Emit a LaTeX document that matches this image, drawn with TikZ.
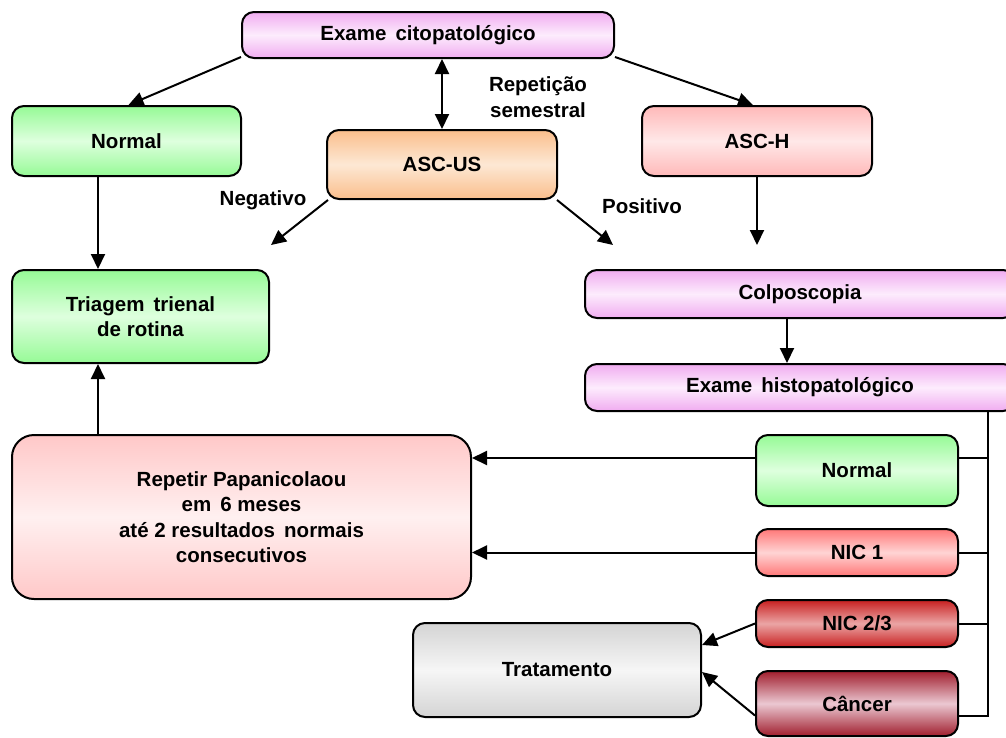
\documentclass[tikz,border=0pt]{standalone}
\usepackage{fontspec}
\setmainfont{Liberation Sans}
\usepackage{xcolor}
\definecolor{violetEdge}{RGB}{240,172,240}
\definecolor{violetMid}{RGB}{253,236,253}
\definecolor{greenEdge}{RGB}{150,250,150}
\definecolor{greenMid}{RGB}{222,255,222}
\definecolor{orangeEdge}{RGB}{250,190,140}
\definecolor{orangeMid}{RGB}{253,232,212}
\definecolor{roseEdge}{RGB}{255,185,185}
\definecolor{roseMid}{RGB}{255,232,232}
\definecolor{paleEdge}{RGB}{255,200,200}
\definecolor{paleMid}{RGB}{255,240,240}
\definecolor{redEdge}{RGB}{255,120,120}
\definecolor{redMid}{RGB}{255,212,212}
\definecolor{darkEdge}{RGB}{200,32,32}
\definecolor{darkMid}{RGB}{235,165,165}
\definecolor{wineEdge}{RGB}{160,30,45}
\definecolor{wineMid}{RGB}{235,200,210}
\definecolor{greyEdge}{RGB}{212,212,212}
\definecolor{greyMid}{RGB}{246,246,246}
\usetikzlibrary{arrows.meta}
\tikzstyle{box} = [draw=black, line width=2pt, rounded corners=12pt, inner sep=0pt,
        align=center, font={\bfseries\fontsize{20.5}{25.5}\selectfont}]
\tikzstyle{violetBox} = [box, top color=violetEdge, bottom color=violetEdge, middle color=violetMid]
\tikzstyle{greenBox} = [box, top color=greenEdge, bottom color=greenEdge, middle color=greenMid]
\tikzstyle{orangeBox} = [box, top color=orangeEdge, bottom color=orangeEdge, middle color=orangeMid]
\tikzstyle{roseBox} = [box, top color=roseEdge, bottom color=roseEdge, middle color=roseMid]
\tikzstyle{paleBox} = [box, top color=paleEdge, bottom color=paleEdge, middle color=paleMid]
\tikzstyle{redBox} = [box, top color=redEdge, bottom color=redEdge, middle color=redMid]
\tikzstyle{darkBox} = [box, top color=darkEdge, bottom color=darkEdge, middle color=darkMid]
\tikzstyle{wineBox} = [box, top color=wineEdge, bottom color=wineEdge, middle color=wineMid]
\tikzstyle{greyBox} = [box, top color=greyEdge, bottom color=greyEdge, middle color=greyMid]
\tikzstyle{lbl} = [align=center, font={\bfseries\fontsize{20.5}{25.5}\selectfont}]
\tikzstyle{link} = [line width=2pt]
\tikzstyle{arr} = [link, -{Triangle[length=15pt,width=14pt]}]
\tikzstyle{arrBoth} = [link, {Triangle[length=15pt,width=14pt]}-{Triangle[length=15pt,width=14pt]}]

\begin{document}
\begin{tikzpicture}[x=1pt, y=-1pt]
            \useasboundingbox (0,0) rectangle (1006,737);
            % boxes
            \node [violetBox, minimum width=372pt, minimum height=46pt] (exCito) at (428,35) {Exame \,citopatológico};
            \node [greenBox, minimum width=229pt, minimum height=70pt] (normL) at (126.5,141) {Normal};
            \node [orangeBox, minimum width=230pt, minimum height=69pt] (ascus) at (442,164.5) {ASC-US};
            \node [roseBox, minimum width=230pt, minimum height=70pt] (asch) at (757,141) {ASC-H};
            \node [greenBox, minimum width=257pt, minimum height=93pt] (triagem) at (140.5,316.5) {Triagem \,trienal\\de rotina};
            \node [violetBox, minimum width=430pt, minimum height=48pt] (colpo) at (800,294) {Colposcopia};
            \node [violetBox, minimum width=430pt, minimum height=47pt] (histo) at (800,387.5) {Exame \,histopatológico};
            \node [paleBox, rounded corners=22pt, minimum width=459pt, minimum height=164pt] (repetir) at (241.5,517)
                {Repetir Papanicolaou\\em \,6 meses\\até 2 resultados \,normais\\consecutivos};
            \node [greenBox, minimum width=202pt, minimum height=71pt] (normR) at (857,470.5) {Normal};
            \node [redBox, minimum width=202pt, minimum height=47pt] (nic1) at (857,552.5) {NIC 1};
            \node [darkBox, minimum width=202pt, minimum height=47pt] (nic23) at (857,623.5) {NIC 2/3};
            \node [wineBox, minimum width=202pt, minimum height=65pt] (cancer) at (857,703.5) {Câncer};
            \node [greyBox, minimum width=288pt, minimum height=94pt] (trat) at (557,670) {Tratamento};
            % labels
            \node [lbl] (repLbl) at (538,97) {Repetição\\semestral};
            \node [lbl] (negLbl) at (263,200) {Negativo};
            \node [lbl] (posLbl) at (642,206) {Positivo};
            % free ends and guide lines
            \coordinate (negEnd) at (271,245);
            \coordinate (posEnd) at (613,245);
            \coordinate (aschEnd) at (757,245);
            \coordinate (leftBus) at (98,0);
            \coordinate (colpoX) at (787,0);
            \coordinate (rightBus) at (988,0);
            % connectors
            \draw [arr] ([yshift=2pt]exCito.south west) -- ([xshift=2pt]normL.north);
            \draw [arr] ([yshift=2pt]exCito.south east) -- ([xshift=-4pt]asch.north);
            \draw [arrBoth] (ascus.north |- exCito.south) -- (ascus.north);
            \draw [arr] ([xshift=2pt]ascus.south west) -- (negEnd);
            \draw [arr] ([xshift=-1pt]ascus.south east) -- (posEnd);
            \draw [arr] (asch.south) -- (aschEnd);
            \draw [arr] (leftBus |- normL.south) -- (leftBus |- triagem.north);
            \draw [arr] (leftBus |- repetir.north) -- (leftBus |- triagem.south);
            \draw [arr] (colpoX |- colpo.south) -- (colpoX |- histo.north);
            \draw [link] (rightBus |- histo.south) |- ([yshift=-12.5pt]cancer.east);
            \draw [link] ([yshift=12.5pt]normR.east) -- ([yshift=12.5pt]normR.east -| rightBus);
            \draw [link] (nic1.east) -- (nic1.east -| rightBus);
            \draw [link] (nic23.east) -- (nic23.east -| rightBus);
            \draw [arr] ([yshift=12.5pt]normR.west) -- ([yshift=12.5pt]normR.west -| repetir.east);
            \draw [arr] (nic1.west) -- (nic1.west -| repetir.east);
            \draw [arr] (nic23.west) -- ([yshift=25pt]trat.east);
            \draw [arr] ([yshift=-12pt]cancer.west) -- ([yshift=-2pt]trat.east);
\end{tikzpicture}
\end{document}
